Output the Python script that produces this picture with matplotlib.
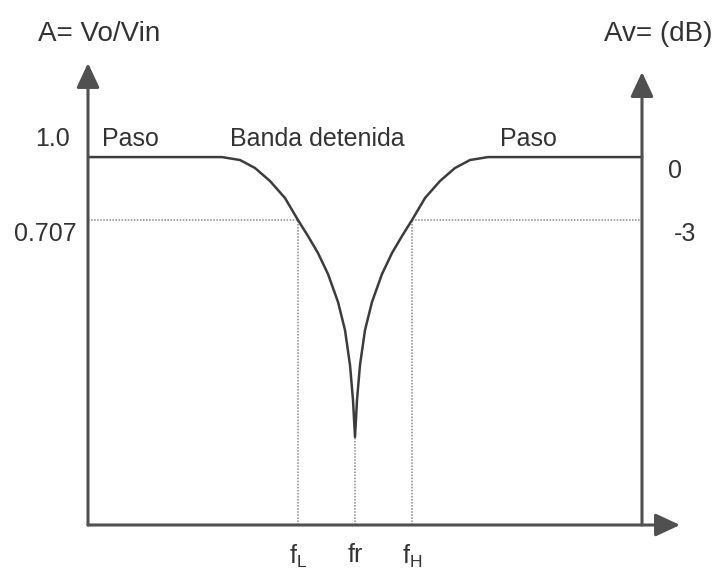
import matplotlib
matplotlib.use("Agg")
import matplotlib.pyplot as plt

plt.rcParams['font.family'] = ['Liberation Sans', 'DejaVu Sans']
plt.rcParams['mathtext.fontset'] = 'custom'
plt.rcParams['mathtext.rm'] = 'Liberation Sans'
plt.rcParams['mathtext.it'] = 'Liberation Sans'

# respuesta del filtro rechaza banda (frecuencia relativa, ganancia en dB)
freq = [0.00, 1.34, 1.52, 1.67, 1.82, 1.97, 2.10, 2.20, 2.30, 2.40, 2.50,
        2.57, 2.62, 2.65, 2.67, 2.69, 2.72, 2.77, 2.84, 2.94, 3.04, 3.14,
        3.24, 3.37, 3.52, 3.67, 3.82, 4.00, 5.54]
gain_db = [0.00, 0.00, -0.14, -0.52, -1.14, -1.95, -3.00, -3.76, -4.57, -5.57, -6.90,
           -8.24, -9.90, -11.57, -13.33, -11.57, -9.90, -8.24, -6.90, -5.57, -4.57, -3.76,
           -3.00, -1.95, -1.14, -0.52, -0.14, 0.00, 0.00]

f_L, f_r, f_H = 2.10, 2.67, 3.24
f_labels = [r'f$_\mathrm{L}$', 'fr', r'f$_\mathrm{H}$']
corte_db = -3.0
nivel_izq = ['1.0', '0.707']
nivel_der = ['0', '-3']

x_max, y_min, y_max = 5.92, -17.52, 4.48
x_der = 5.54      # eje derecho (dB)
y_der_top = 4.05

W, H = 716, 573
fig = plt.figure(figsize=(W / 100, H / 100), dpi=100)
ax = fig.add_axes([88 / W, (H - 525) / H, (680 - 88) / W, (525 - 63) / H])
ax.set_xlim(0, x_max)
ax.set_ylim(y_min, y_max)
for s in ax.spines.values():
    s.set_visible(False)
ax.set_yticks([])

eje = '#505050'
punteado = dict(color='#8a8a8a', lw=1.1, linestyle=(0, (1, 1)))

# ejes con flecha
flecha = dict(arrowstyle='-|>,head_length=1.5,head_width=0.7', lw=2.2,
              color=eje, shrinkA=0, shrinkB=0, mutation_scale=10)
ax.annotate('', xy=(x_max, y_min), xytext=(0, y_min), arrowprops=flecha,
            annotation_clip=False)
ax.annotate('', xy=(0, y_max), xytext=(0, y_min), arrowprops=flecha,
            annotation_clip=False)
ax.annotate('', xy=(x_der, y_der_top), xytext=(x_der, y_min), arrowprops=flecha,
            annotation_clip=False)

# lineas de -3 dB
ax.plot([0, f_L], [corte_db, corte_db], **punteado)
ax.plot([f_H, x_der], [corte_db, corte_db], **punteado)
ax.plot([f_L, f_L], [y_min, corte_db], **punteado)
ax.plot([f_H, f_H], [y_min, corte_db], **punteado)
ax.plot([f_r, f_r], [y_min, min(gain_db)], **punteado)

ax.plot(freq, gain_db, color='#3c3c3c', lw=1.8, solid_joinstyle='round')

# frecuencias en el eje x
ax.set_xticks([f_L, f_r, f_H], f_labels)
ax.tick_params(axis='x', length=0, pad=13, labelsize=18, labelcolor='#333333')

txt = dict(fontsize=18, color='#333333')
ax.text(-0.18, 0.52, nivel_izq[0], ha='right', va='baseline', **txt)
ax.text(-0.11, corte_db - 0.1, nivel_izq[1], ha='right', va='top', **txt)
ax.text(x_der + 0.26, -0.1, nivel_der[0], ha='left', va='top', **txt)
ax.text(x_der + 0.32, corte_db - 0.1, nivel_der[1], ha='left', va='top', **txt)

ax.text(0.14, 0.55, 'Paso', ha='left', va='baseline', **txt)
ax.text(1.42, 0.55, 'Banda detenida', ha='left', va='baseline', **txt)
ax.text(4.12, 0.55, 'Paso', ha='left', va='baseline', **txt)

fig.text(38 / W, 1 - 41 / H, 'A= Vo/Vin', ha='left', va='baseline', fontsize=20, color='#333333')
fig.text(712 / W, 1 - 41 / H, 'Av= (dB)', ha='right', va='baseline', fontsize=20, color='#333333')

fig.savefig('out.png', dpi=100, facecolor='white')
